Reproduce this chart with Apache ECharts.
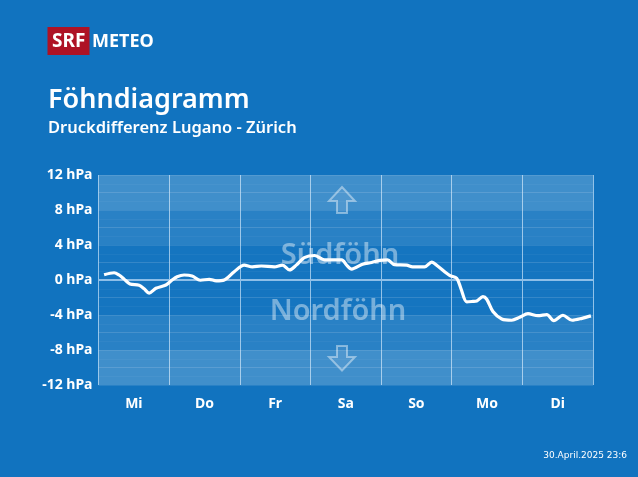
<!DOCTYPE html>
<html>
<head>
<meta charset="utf-8">
<style>
  html, body { margin: 0; padding: 0; background: #1173bf; }
  #chart { width: 638px; height: 477px; }
</style>
<script src="https://cdn.jsdelivr.net/npm/echarts@6/dist/echarts.min.js"></script>
</head>
<body>
<div id="chart"></div>
<script>
const days = ["Mi", "Do", "Fr", "Sa", "So", "Mo", "Di"];

// Stunden seit Beginn der Woche
const hours = [1.9, 5.3, 7, 8.7, 10.7, 13.8, 15.5, 17.2, 19.5, 22.9, 25, 26.7, 29.1, 31.8, 34.6, 37.6, 40, 42.7,
  46.1, 49.5, 52.3, 55.3, 59.7, 62.5, 64.9, 67.2, 69.9, 73.4, 76.8, 82.6, 84.3, 86, 89.7, 92.8, 95.5, 98.2, 100.6,
  104.7, 106.7, 110.8, 113.2, 115.2, 119.3, 121.7, 123.1, 125.1, 127.1, 128.5, 130.6, 131.9, 134, 137, 140.4,
  143.1, 145.9, 149.3, 152.3, 154.7, 157.8, 160.9, 164.3, 167.3];
const pressure = [0.6, 0.83, 0.57, 0.1, -0.45, -0.6, -1.0, -1.5, -0.95, -0.57, 0, 0.38, 0.57, 0.46, -0.03, 0.08, -0.1, 0,
  0.95, 1.7, 1.5, 1.6, 1.5, 1.7, 1.15, 1.7, 2.55, 2.8, 2.3, 2.3, 1.7, 1.25, 1.8, 2, 2.25, 2.3, 1.75,
  1.7, 1.5, 1.5, 2.05, 1.6, 0.53, 0.2, -0.95, -2.5, -2.45, -2.4, -1.9, -2.2, -3.6, -4.45, -4.6,
  -4.26, -3.85, -4.08, -3.96, -4.65, -4.03, -4.6, -4.38, -4.1];

const font = '"Noto Sans", sans-serif';
const overlay = "rgba(255,255,255,0.42)";

const chart = echarts.init(document.getElementById("chart"), null, { renderer: "canvas" });

chart.setOption({
  animation: false,
  backgroundColor: "#1173bf",
  grid: { left: 98.5, right: 45, top: 175, bottom: 92 },
  xAxis: [
    {
      type: "category",
      data: days,
      boundaryGap: true,
      axisLine: { show: false },
      axisTick: { show: false },
      axisLabel: { color: "#fff", fontFamily: font, fontWeight: "bold", fontSize: 14, margin: 12 },
      splitLine: { show: true, interval: 0, lineStyle: { color: "rgba(190,220,245,0.75)", width: 1 } },
    },
    { type: "value", min: 0, max: 168, show: false },
  ],
  yAxis: [
    {
      type: "value",
      min: -12,
      max: 12,
      interval: 4,
      axisLine: { show: false },
      axisTick: { show: false },
      axisLabel: {
        color: "#fff",
        fontFamily: font,
        fontWeight: "bold",
        fontSize: 14,
        margin: 6,
        formatter: (v) => v + " hPa",
      },
      splitLine: { show: false },
      minorSplitLine: { show: true, lineStyle: { color: "rgba(255,255,255,0.04)", width: 1 } },
      minorTick: { show: false, splitNumber: 4 },
    },
    {
      type: "value",
      min: -12,
      max: 12,
      interval: 2,
      position: "left",
      axisLine: { show: false },
      axisTick: { show: false },
      axisLabel: { show: false },
      splitLine: { show: true, lineStyle: { color: "rgba(255,255,255,0.1)", width: 1 } },
    },
  ],
  graphic: [
    { type: "rect", z: 10, shape: { x: 47.5, y: 27, width: 42, height: 28 }, style: { fill: "#ae1225" } },
    { type: "text", z: 11, x: 52, y: 32, style: { text: "SRF", fill: "#fff", font: "bold 19px " + font } },
    { type: "text", z: 11, x: 92, y: 33, style: { text: "METEO", fill: "#fff", font: "bold 18px " + font } },
    { type: "text", z: 11, x: 48, y: 87, style: { text: "Föhndiagramm", fill: "#fff", font: "600 27px " + font } },
    { type: "text", z: 11, x: 48, y: 120, style: { text: "Druckdifferenz Lugano - Zürich", fill: "#fff", font: "600 16.5px " + font } },
    { type: "text", z: 11, x: 627, y: 451, style: { text: "30.April.2025 23:6", fill: "#fff", align: "right", font: "9px 'DejaVu Sans'" } },
    { type: "text", z: 3, x: 340, y: 256, style: { text: "Südföhn", fill: overlay, align: "center", verticalAlign: "middle", font: "600 29px " + font } },
    { type: "text", z: 3, x: 338, y: 312, style: { text: "Nordföhn", fill: overlay, align: "center", verticalAlign: "middle", font: "600 29px " + font } },
    {
      type: "polygon",
      z: 3,
      shape: { points: [[342, 187], [329, 201], [337, 201], [337, 213], [347, 213], [347, 201], [355, 201]] },
      style: { fill: "rgba(255,255,255,0.08)", stroke: overlay, lineWidth: 2 },
    },
    {
      type: "polygon",
      z: 3,
      shape: { points: [[337, 346], [347, 346], [347, 357], [355, 357], [342, 370.5], [329, 357], [337, 357]] },
      style: { fill: "rgba(255,255,255,0.08)", stroke: overlay, lineWidth: 2 },
    },
  ],
  series: [
    {
      type: "line",
      xAxisIndex: 1,
      yAxisIndex: 0,
      data: [],
      z: 1,
      silent: true,
      markArea: {
        silent: true,
        data: [
          [{ yAxis: 8, itemStyle: { color: "rgba(255,255,255,0.2)" } }, { yAxis: 12 }],
          [{ yAxis: 4, itemStyle: { color: "rgba(255,255,255,0.1)" } }, { yAxis: 8 }],
          [{ yAxis: 0, itemStyle: { color: "rgba(255,255,255,0.02)" } }, { yAxis: 4 }],
          [{ yAxis: -4, itemStyle: { color: "rgba(255,255,255,0.02)" } }, { yAxis: 0 }],
          [{ yAxis: -8, itemStyle: { color: "rgba(255,255,255,0.1)" } }, { yAxis: -4 }],
          [{ yAxis: -12, itemStyle: { color: "rgba(255,255,255,0.2)" } }, { yAxis: -8 }],
        ],
      },
      markLine: {
        silent: true,
        symbol: "none",
        label: { show: false },
        lineStyle: { color: "#8fbfe8", width: 2, type: "solid" },
        data: [{ yAxis: 0 }],
      },
    },
    {
      type: "line",
      xAxisIndex: 1,
      yAxisIndex: 0,
      data: hours.map((h, i) => [h, pressure[i]]),
      z: 5,
      smooth: 0.3,
      showSymbol: false,
      lineStyle: { color: "#fff", width: 3.2 },
    },
  ],
});
</script>
</body>
</html>
